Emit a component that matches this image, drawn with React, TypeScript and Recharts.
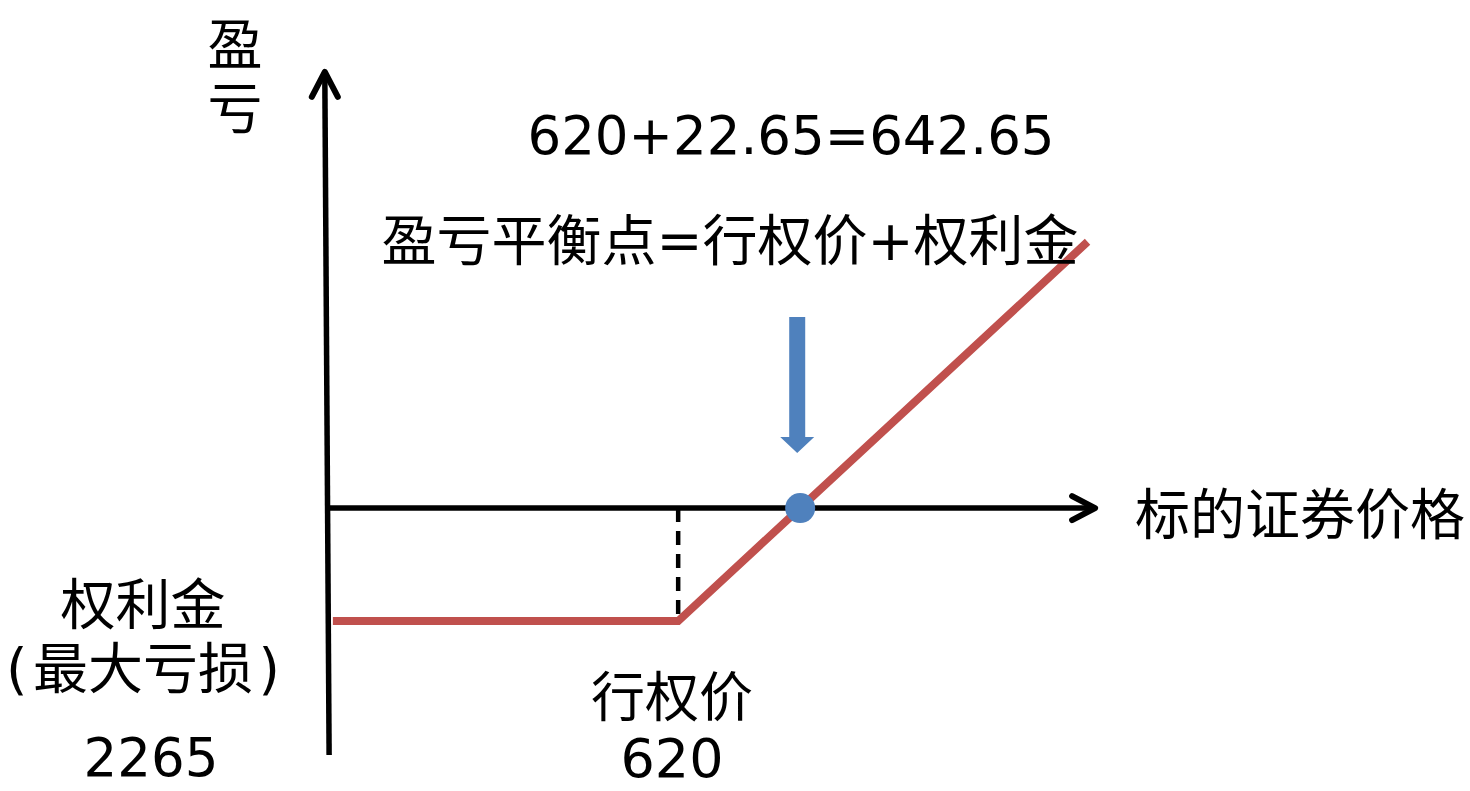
import { ComposedChart, Line, XAxis, YAxis, ReferenceLine, ReferenceDot } from 'recharts';

// long call payoff: strike 620, premium 22.65
const strike = 620;
const premium = 22.65;
const breakeven = 642.65;

const prices = [555.9, 620, 696];
const profits = [-22.65, -22.65, 53.35];

const xDomain = [494.1, 767.0];
const yDomain = [-56.7, 101.8];

const data = prices.map((p, i) => ({ price: p, profit: profits[i] }));

const CJK = '"Noto Sans CJK SC", "DejaVu Sans", sans-serif';
const NUM = '"DejaVu Sans", "Noto Sans CJK SC", sans-serif';

const UpHead = (props: any) => {
  const { cx, cy } = props;
  return (
    <polyline
      points={`${cx - 13},${cy + 25} ${cx},${cy} ${cx + 13},${cy + 25}`}
      fill="none"
      stroke="#000"
      strokeWidth={6}
      strokeLinecap="round"
      strokeLinejoin="round"
    />
  );
};

const RightHead = (props: any) => {
  const { cx, cy } = props;
  return (
    <polyline
      points={`${cx - 23},${cy - 12} ${cx},${cy} ${cx - 23},${cy + 12}`}
      fill="none"
      stroke="#000"
      strokeWidth={6}
      strokeLinecap="round"
      strokeLinejoin="round"
    />
  );
};

const DownArrow = (props: any) => {
  const { cx, cy } = props;
  const pts = [
    [cx - 8, cy],
    [cx + 8, cy],
    [cx + 8, cy + 120],
    [cx + 17, cy + 120],
    [cx, cy + 136],
    [cx - 17, cy + 120],
    [cx - 8, cy + 120],
  ]
    .map((p) => p.join(','))
    .join(' ');
  return <polygon points={pts} fill="#4f81bd" />;
};

// centred label (both axes)
const Label = ({ x, y, text, font = CJK, size = 55, lh = 1 }: { x: number; y: number; text: string; font?: string; size?: number; lh?: number | string }) => (
  <div
    style={{
      position: 'absolute',
      left: x,
      top: y,
      transform: 'translate(-50%, -50%)',
      fontFamily: font,
      fontSize: size,
      lineHeight: lh,
      whiteSpace: 'pre',
      textAlign: 'center',
      color: '#000',
    }}
  >
    {text}
  </div>
);

// label placed by its top edge, centred horizontally
const Block = ({ x, top, text, size, lh }: { x: number; top: number; text: string; size: number; lh: string }) => (
  <div
    style={{
      position: 'absolute',
      left: x,
      top,
      transform: 'translateX(-50%)',
      fontFamily: NUM,
      fontSize: size,
      lineHeight: lh,
      whiteSpace: 'pre',
      textAlign: 'center',
      color: '#000',
    }}
  >
    {text}
  </div>
);

export default function App() {
  return (
    <div style={{ position: 'absolute', left: 0, top: 0, width: 1470, height: 791, background: '#fff' }}>
      <ComposedChart width={1470} height={791} data={data} margin={{ top: 0, right: 0, bottom: 0, left: 0 }}>
        <XAxis dataKey="price" type="number" domain={xDomain} hide allowDataOverflow />
        <YAxis type="number" domain={yDomain} hide allowDataOverflow />

        {/* axes */}
        <ReferenceLine segment={[{ x: 555.2, y: -49.5 }, { x: 554.4, y: 87.2 }]} stroke="#000" strokeWidth={5.5} />
        <ReferenceDot x={554.4} y={87.4} r={1} shape={UpHead} />
        <ReferenceLine segment={[{ x: 555.0, y: 0 }, { x: 697.2, y: 0 }]} stroke="#000" strokeWidth={5.5} />
        <ReferenceDot x={697.4} y={0} r={1} shape={RightHead} />

        {/* strike marker */}
        <ReferenceLine
          segment={[{ x: strike, y: 0 }, { x: strike, y: -premium }]}
          stroke="#000"
          strokeWidth={4.5}
          strokeDasharray="14 9"
        />

        <Line
          dataKey="profit"
          type="linear"
          stroke="#c0504d"
          strokeWidth={8}
          dot={false}
          activeDot={false}
          isAnimationActive={false}
        />

        <ReferenceDot x={642.1} y={38.3} r={1} shape={DownArrow} />
        <ReferenceDot x={breakeven} y={0} r={15} fill="#4f81bd" stroke="none" />
      </ComposedChart>

      <Label x={235} y={72} text={'盈\n亏'} lh="64px" />
      <Label x={791} y={135} text="620+22.65=642.65" font={NUM} size={53} />
      <Label x={730} y={241} text="盈亏平衡点=行权价+权利金" font={NUM} />
      <Label x={1300} y={510} text="标的证券价格" />
      <Block x={143} top={573} text={'权利金\n(\u200A最大亏损\u200A)'} size={55} lh="64px" />
      <Block x={672} top={669} text={'行权价\n620'} size={54} lh="60px" />
      <Block x={151} top={728} text="2265" size={53} lh="60px" />
    </div>
  );
}
